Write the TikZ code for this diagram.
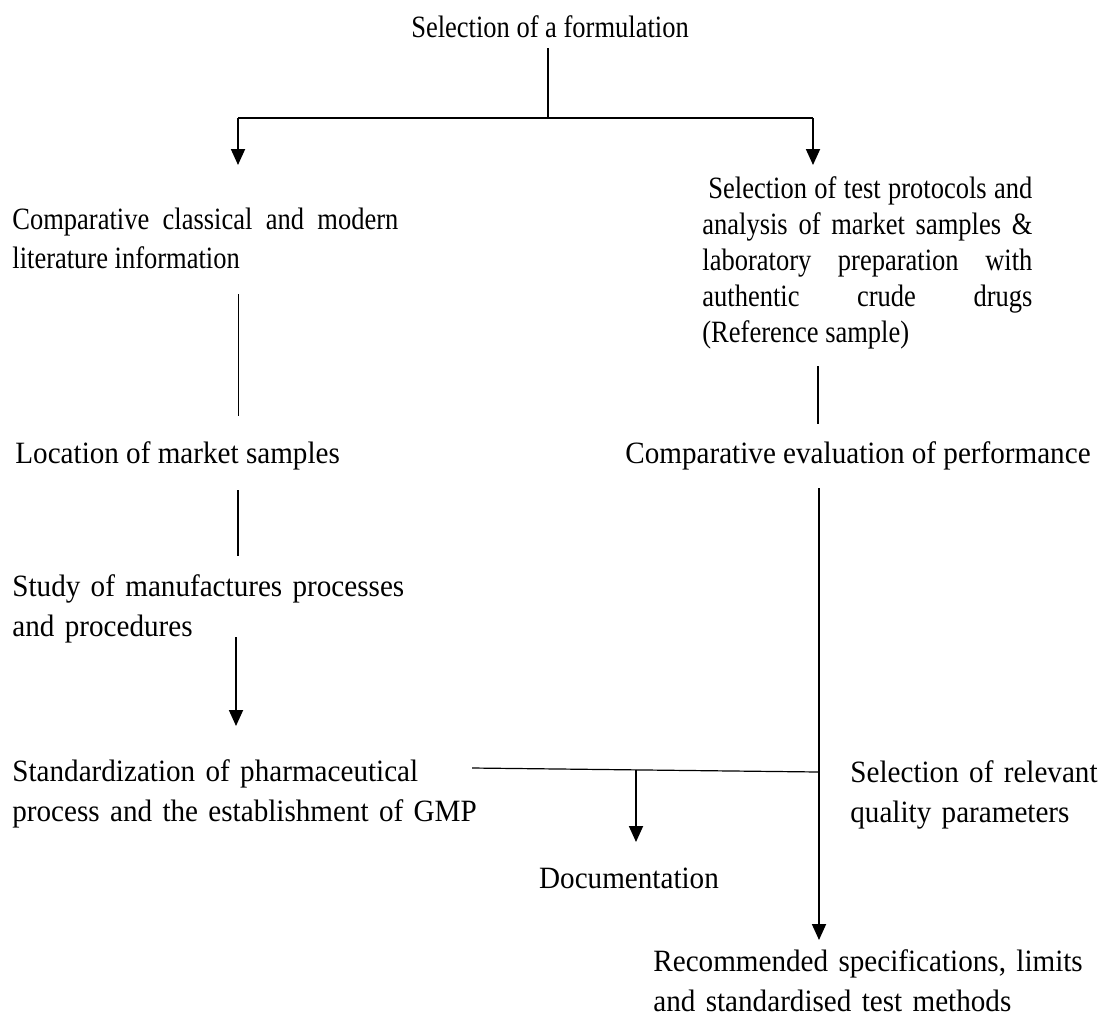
\documentclass[tikz,border=0pt]{standalone}
\usepackage{fontspec}
\setmainfont{Liberation Serif}
\newfontfamily\normfont[FakeStretch=0.94]{Liberation Serif}
\newfontfamily\narrowfont[FakeStretch=0.855]{Liberation Serif}
\usetikzlibrary{arrows.meta}
\begin{document}
\begin{tikzpicture}[x=0.5pt,y=-0.5pt,
  txt/.style={inner sep=0pt, font=\normfont\fontsize{15.5}{20}\selectfont},
  ntxt/.style={inner sep=0pt, font=\narrowfont\fontsize{15.5}{19.5}\selectfont},
  ln/.style={line width=0.9pt},
  thinln/.style={line width=0.5pt},
  arr/.style={line width=0.9pt,-{Triangle[width=7pt,length=8pt]}}]
\useasboundingbox (0,0) rectangle (1102,1029);

% texts
\node[ntxt,anchor=base] (title) at (550,37) {Selection of a formulation};
\node[ntxt,anchor=base west,text width=193pt,align=justify] (lit) at (12,229)
  {Comparative classical and modern\linebreak literature information};
\node[ntxt,font=\narrowfont\fontsize{15.5}{18}\selectfont,anchor=base west,text width=165pt,align=justify] (proto) at (702,198)
  {\hspace*{3pt}Selection of test protocols and\linebreak analysis of market samples \&\linebreak laboratory preparation with\linebreak authentic crude drugs\linebreak (Reference sample)};
\node[txt,anchor=base west] (loc) at (15,463) {Location of market samples};
\node[txt,anchor=base west] (perf) at (625,463) {Comparative evaluation of performance};
\node[txt,anchor=base west,text width=220pt,align=left] (study) at (12,596)
  {Study of manufactures processes\\and procedures};
\node[txt,anchor=base west,text width=240pt,align=left] (gmp) at (12,781)
  {Standardization of pharmaceutical\\process and the establishment of GMP};
\node[txt,anchor=base west,text width=130pt,align=left] (rel) at (850,782)
  {Selection of relevant\\quality parameters};
\node[txt,anchor=base] (doc) at (629,888) {Documentation};
\node[txt,anchor=base west,text width=230pt,align=left] (rec) at (653,971)
  {Recommended specifications, limits\\and standardised test methods};

% junction coordinates
\coordinate (t1) at (548,48);
\coordinate (split) at (548,118);
\coordinate (sl) at (238,118);
\coordinate (sr) at (813,118);
\coordinate (al) at (238,165);
\coordinate (ar) at (813,165);
\coordinate (l1a) at (238,294);
\coordinate (l1b) at (238,416);
\coordinate (r1a) at (818,366);
\coordinate (r1b) at (818,424);
\coordinate (l2a) at (238,490);
\coordinate (l2b) at (238,556);
\coordinate (r2a) at (819,488);
\coordinate (r2b) at (819,940);
\coordinate (l3a) at (236,637);
\coordinate (l3b) at (236,726);
\coordinate (ha) at (472,768);
\coordinate (hb) at (819,772);
\coordinate (da) at (636,769.5);
\coordinate (db) at (636,842);

% connectors
\draw[ln] (t1) -- (split);
\draw[ln] (sl) -- (sr);
\draw[arr] (sl) -- (al);
\draw[arr] (sr) -- (ar);
\draw[thinln] (l1a) -- (l1b);
\draw[ln] (r1a) -- (r1b);
\draw[line width=0.7pt] (l2a) -- (l2b);
\draw[arr] (r2a) -- (r2b);
\draw[arr] (l3a) -- (l3b);
\draw[line width=0.6pt] (ha) -- (hb);
\draw[arr] (da) -- (db);
\end{tikzpicture}
\end{document}
